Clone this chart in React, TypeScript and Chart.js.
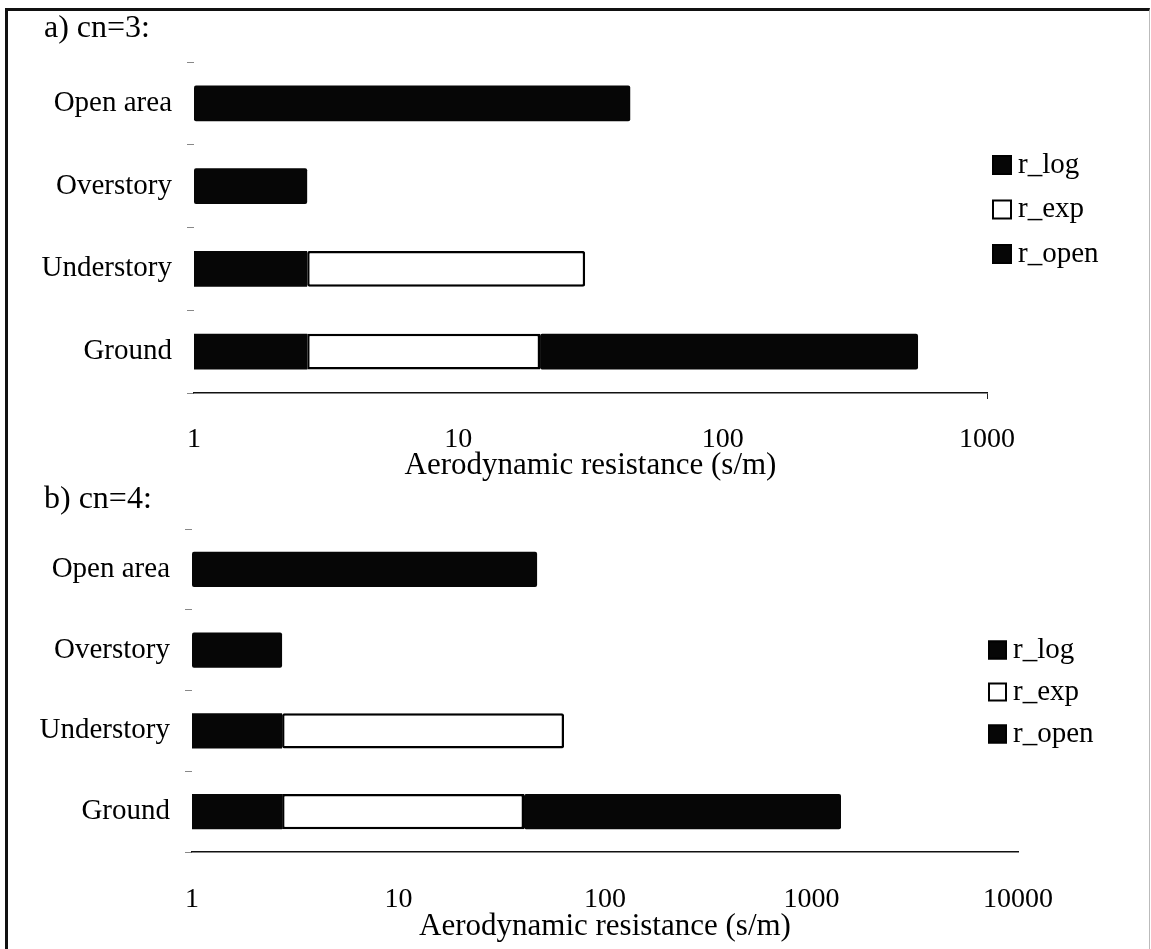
import React, { useEffect, useRef } from "react";
import { Chart, registerables } from "chart.js";

Chart.register(...registerables);

// ---- data ----
const categories = ["Open area", "Overstory", "Understory", "Ground"];
const seriesNames = ["r_log", "r_exp", "r_open"];

const rLogA = [44.7, 2.68, 2.68, 2.68];
const rExpA = [null, null, 27.5, 17.7];
const rOpenA = [null, null, null, 528];

const rLogB = [46.9, 2.73, 2.73, 2.73];
const rExpB = [null, null, 60.6, 37.8];
const rOpenB = [null, null, null, 1349];

const ticksA = [1, 10, 100, 1000];
const ticksB = [1, 10, 100, 1000, 10000];

const titleA = "a) cn=3:";
const titleB = "b) cn=4:";
const axisTitle = "Aerodynamic resistance (s/m)";

const FONT = "'Liberation Serif', 'Times New Roman', serif";
Chart.defaults.font.family = FONT;
Chart.defaults.color = "#000";

const sideLegend = {
  id: "sideLegend",
  afterDraw(chart: any, _args: any, opts: any) {
    const { ctx } = chart;
    const { x, y, gap, box, textGap, size } = opts;
    chart.data.datasets.forEach((ds: any, i: number) => {
      const cy = y + i * gap;
      ctx.save();
      ctx.fillStyle = ds.backgroundColor;
      ctx.fillRect(x, cy - box / 2, box, box);
      ctx.lineWidth = 2;
      ctx.strokeStyle = "#000";
      ctx.strokeRect(x + 1, cy - box / 2 + 1, box - 2, box - 2);
      ctx.fillStyle = "#000";
      ctx.font = `${size}px ${FONT}`;
      ctx.textBaseline = "middle";
      ctx.textAlign = "left";
      ctx.fillText(ds.label, x + box + textGap, cy);
      ctx.restore();
    });
  },
};

// shifts the chart title horizontally after layout
const titleShift = {
  id: "titleShift",
  afterLayout(chart: any, _args: any, opts: any) {
    const t = chart.titleBlock;
    if (t && opts && opts.dx) {
      t.left += opts.dx;
    }
  },
};

function makeConfig(p: any) {
  const colors = ["#060606", "#ffffff", "#060606"];
  const datasets = [p.log, p.exp, p.open].map((d: any, i: number) => ({
    label: seriesNames[i],
    data: d,
    backgroundColor: colors[i],
    borderColor: "#000",
    borderWidth: i === 1 ? 2.5 : 0,
    borderSkipped: false,
    borderRadius: 2,
    barPercentage: 0.435,
    categoryPercentage: 1,
  }));
  return {
    type: "bar",
    data: { labels: categories, datasets },
    plugins: [sideLegend, titleShift],
    options: {
      responsive: false,
      animation: false,
      indexAxis: "y",
      layout: { padding: { left: 30, right: p.padRight, top: 0, bottom: 0 } },
      plugins: {
        legend: { display: false },
        tooltip: { enabled: false },
        title: {
          display: true,
          text: p.title,
          align: "start",
          color: "#000",
          font: { size: 32, weight: "normal", family: FONT },
          padding: { top: p.titleTop, bottom: p.titleBottom },
        },
        sideLegend: p.legend,
        titleShift: { dx: 14 },
      },
      scales: {
        x: {
          type: "logarithmic",
          stacked: true,
          min: p.ticks[0],
          max: p.ticks[p.ticks.length - 1],
          afterBuildTicks: (s: any) => {
            s.ticks = p.ticks.map((v: number) => ({ value: v }));
          },
          afterFit: (s: any) => {
            s.height = p.xHeight;
          },
          ticks: {
            autoSkip: false,
            maxRotation: 0,
            padding: p.tickPad,
            font: { size: 28, family: FONT },
            color: "#000",
            callback: (v: any) => String(v),
          },
          grid: {
            drawOnChartArea: false,
            drawTicks: true,
            tickLength: 6,
            tickColor: (c: any) =>
              p.endTick && c.tick && c.tick.value === p.ticks[p.ticks.length - 1]
                ? "#222"
                : "rgba(0,0,0,0)",
            color: "rgba(0,0,0,0)",
          },
          border: { display: true, color: "#111", width: 1.5 },
          title: {
            display: true,
            text: axisTitle,
            color: "#000",
            font: { size: 31, family: FONT },
            padding: { top: 2, bottom: p.axisTitleBottom },
          },
        },
        y: {
          type: "category",
          stacked: true,
          offset: true,
          afterFit: (s: any) => {
            s.width = p.yWidth;
          },
          ticks: {
            padding: 15,
            font: { size: 29, family: FONT },
            color: "#000",
          },
          grid: {
            offset: true,
            drawOnChartArea: false,
            drawTicks: true,
            tickLength: 7,
            tickColor: "#888",
            color: "rgba(0,0,0,0)",
          },
          border: { display: false },
        },
      },
    },
  };
}

function ChartCanvas({ cfg, top, height }: any) {
  const ref = useRef<HTMLCanvasElement | null>(null);
  useEffect(() => {
    if (!ref.current) return;
    const chart = new Chart(ref.current, makeConfig(cfg) as any);
    return () => chart.destroy();
  }, []);
  return (
    <canvas
      ref={ref}
      width={1151}
      height={height}
      style={{ position: "absolute", left: 0, top, width: 1151, height }}
    />
  );
}

export default function App() {
  const cfgA = {
    log: rLogA,
    exp: rExpA,
    open: rOpenA,
    ticks: ticksA,
    title: titleA,
    padRight: 164,
    yWidth: 164,
    titleTop: 9.8,
    titleBottom: 13.8,
    xHeight: 97,
    tickPad: 24,
    axisTitleBottom: 5.4,
    endTick: true,
    legend: { x: 992, y: 165, gap: 44.5, box: 20, textGap: 6, size: 29 },
  };
  const cfgB = {
    log: rLogB,
    exp: rExpB,
    open: rOpenB,
    ticks: ticksB,
    title: titleB,
    padRight: 133,
    yWidth: 162,
    titleTop: 4.8,
    titleBottom: 9.8,
    xHeight: 97,
    tickPad: 25,
    axisTitleBottom: 3.4,
    endTick: false,
    legend: { x: 988, y: 174, gap: 42, box: 19, textGap: 6, size: 29 },
  };
  return (
    <div style={{ position: "absolute", left: 0, top: 0, width: 1151, height: 949, overflow: "hidden", background: "#fff" }}>
      <div
        style={{
          position: "absolute",
          left: 5,
          top: 8,
          width: 1141,
          height: 945,
          borderLeft: "3px solid #111",
          borderTop: "3px solid #111",
          borderRight: "1px solid #bbb",
          boxSizing: "content-box",
        }}
      />
      <ChartCanvas cfg={cfgA} top={0} height={490} />
      <ChartCanvas cfg={cfgB} top={476} height={473} />
    </div>
  );
}
